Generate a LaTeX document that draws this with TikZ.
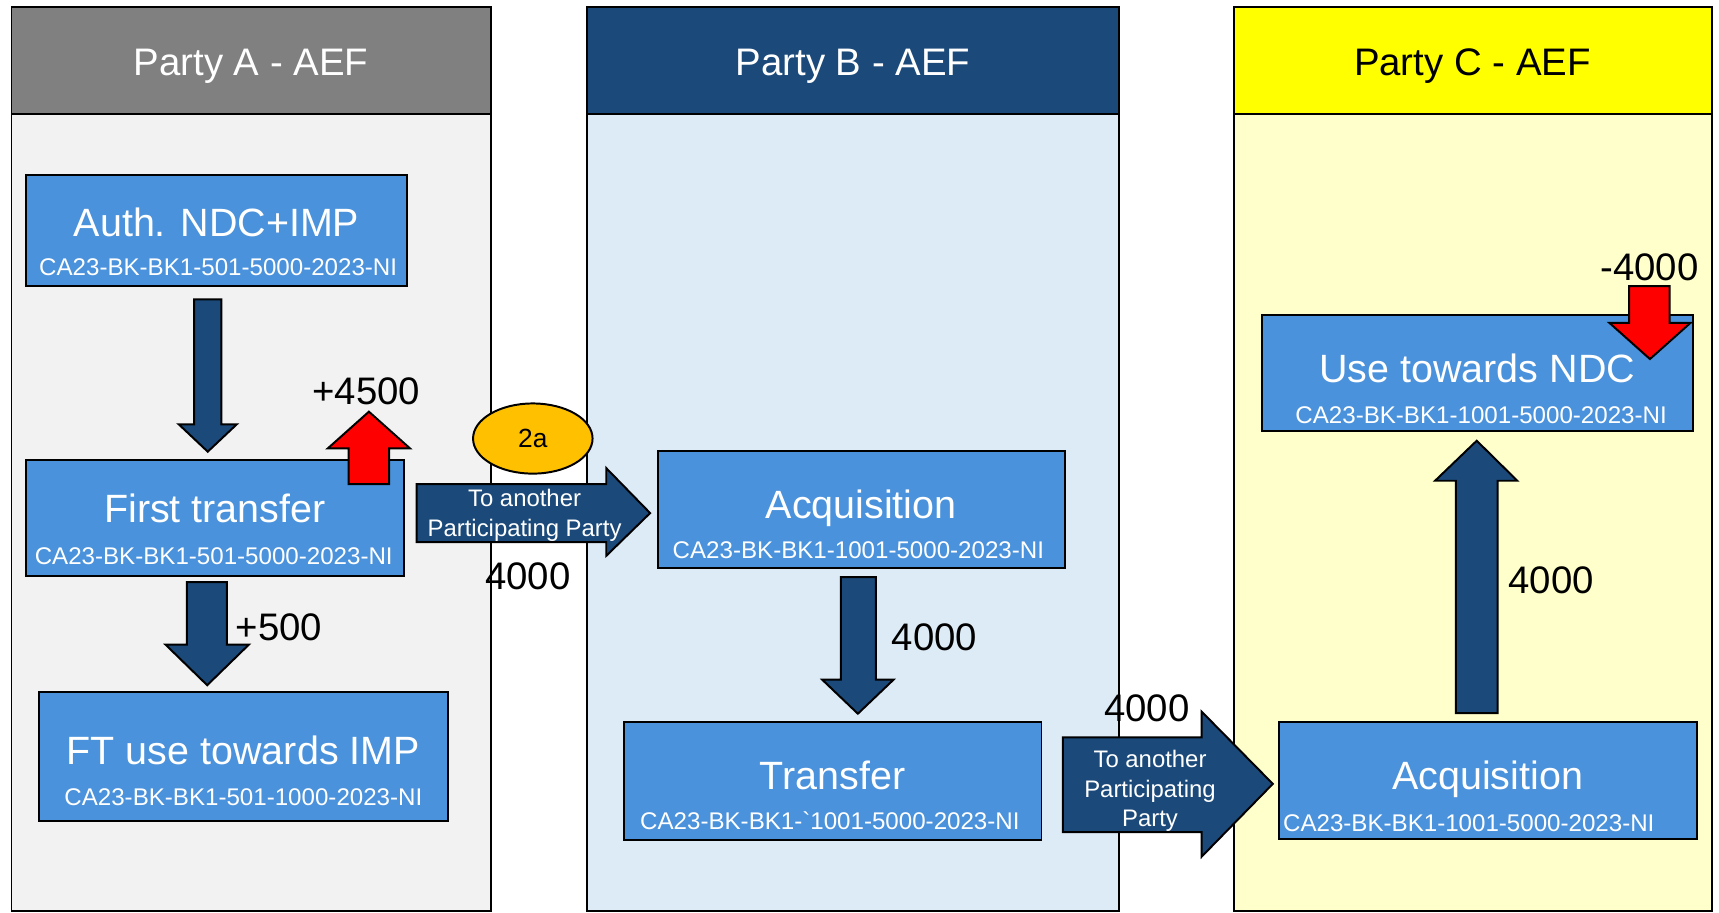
\documentclass[tikz,border=0pt]{standalone}
\usepackage{fontspec}
\setmainfont{Liberation Sans}
\newfontfamily\codefont{Liberation Sans}
\usetikzlibrary{shapes.geometric,fit}
\definecolor{grayhead}{HTML}{808080}
\definecolor{grayback}{HTML}{F2F2F2}
\definecolor{bluehead}{HTML}{1B4A7A}
\definecolor{blueback}{HTML}{DDEBF7}
\definecolor{yellowhead}{HTML}{FFFF00}
\definecolor{yellowback}{HTML}{FFFFCC}
\definecolor{boxblue}{HTML}{4A92DC}
\definecolor{arrowblue}{HTML}{1B4A7A}
\definecolor{badgecol}{HTML}{FFC000}
\definecolor{redcol}{HTML}{FF0000}
\begin{document}
\begin{tikzpicture}[x=0.5pt,y=-0.5pt,
  panel/.style={draw=black, line width=0.9pt, inner sep=0pt, outer sep=0pt},
  acctbox/.style={draw=black, fill=boxblue, line width=0.9pt, inner sep=0pt, outer sep=0pt},
  blockarrow/.style={draw=black, fill=arrowblue, line width=0.9pt, line join=miter},
  redarrow/.style={draw=black, fill=redcol, line width=0.9pt, line join=miter},
  headtext/.style={font=\fontsize{17.5pt}{20pt}\selectfont, anchor=base, inner sep=0pt},
  titletext/.style={font=\fontsize{18pt}{21pt}\selectfont, text=white, anchor=base, inner sep=0pt},
  codetext/.style={font=\codefont\fontsize{11pt}{13pt}\selectfont, text=white, anchor=base, inner sep=0pt},
  numtext/.style={font=\fontsize{17.5pt}{20pt}\selectfont, anchor=base, inner sep=0pt},
  arrowtext/.style={font=\fontsize{10.9pt}{12pt}\selectfont, text=white, anchor=base, inner sep=0pt},
  badge/.style={ellipse, draw=black, fill=badgecol, line width=0.9pt, inner sep=0pt,
    minimum width=54.5pt, minimum height=32pt, font=\fontsize{12pt}{14pt}\selectfont},
]
\useasboundingbox (0,0) rectangle (1568,832);
\fill[white] (0,0) rectangle (1568,832);

% ---- panels ----
\node[panel, fill=grayback, fit={(10.5,104) (448,831)}] (bodyA) {};
\node[panel, fill=grayhead, fit={(10.5,6.5) (448,104)}] (headA) {};
\node[panel, fill=blueback, fit={(535,104) (1020.5,831)}] (bodyB) {};
\node[panel, fill=bluehead, fit={(535,6.5) (1020.5,104)}] (headB) {};
\node[panel, fill=yellowback, fit={(1125.5,104) (1561.5,831)}] (bodyC) {};
\node[panel, fill=yellowhead, fit={(1125.5,6.5) (1561.5,104)}] (headC) {};

\node[headtext, text=white] (headAT) at (229,69) {Party A - AEF};
\node[headtext, text=white] (headBT) at (778,69) {Party B - AEF};
\node[headtext, text=black] (headCT) at (1343,69) {Party C - AEF};

% ---- account boxes ----
\node[acctbox, fit={(23.5,160) (371.5,261)}] (auth) {};
\node[acctbox, fit={(24,420) (368.5,525)}] (first) {};
\node[acctbox, fit={(36,631) (408.5,749)}] (ftuse) {};
\node[acctbox, fit={(600,411) (971,518)}] (acqB) {};
\node[acctbox, fit={(569,659) (950,766)}] (transB) {};
\node[acctbox, fit={(1151,287) (1544,393)}] (usendc) {};
\node[acctbox, fit={(1166.5,659) (1548,765)}] (acqC) {};

\node[titletext] (authT) at (197.5,216) {Auth. NDC+IMP};
\node[codetext] (authC) at (199,251) {CA23-BK-BK1-501-5000-2023-NI};
\node[titletext] (firstT) at (196,477) {First transfer};
\node[codetext] (firstC) at (195,515) {CA23-BK-BK1-501-5000-2023-NI};
\node[titletext] (ftuseT) at (222,697) {FT use towards IMP};
\node[codetext] (ftuseC) at (222,735) {CA23-BK-BK1-501-1000-2023-NI};
\node[titletext] (acqBT) at (785.5,473) {Acquisition};
\node[codetext] (acqBC) at (783,509) {CA23-BK-BK1-1001-5000-2023-NI};
\node[titletext] (transBT) at (759.5,720) {Transfer};
\node[codetext] (transBC) at (757,757) {CA23-BK-BK1-{\char96}1001-5000-2023-NI};
\node[titletext] (usendcT) at (1347.5,349) {Use towards NDC};
\node[codetext] (usendcC) at (1351,386) {CA23-BK-BK1-1001-5000-2023-NI};
\node[titletext] (acqCT) at (1357,720.5) {Acquisition};
\node[codetext, anchor=base west] (acqCC) at (1170,758.5) {CA23-BK-BK1-1001-5000-2023-NI};

% ---- blue block arrows ----
% Auth -> First transfer
\draw[blockarrow] (177,273) -- (202,273) -- (202,387) -- (216,387) -- (189.5,412) -- (163,387) -- (177,387) -- cycle;
% First transfer -> FT use
\draw[blockarrow] (170.5,531) -- (207,531) -- (207,588) -- (227,588) -- (189,625) -- (151,588) -- (170.5,588) -- cycle;
% Acquisition B -> Transfer B
\draw[blockarrow] (767,526.5) -- (799,526.5) -- (799,620) -- (815,620) -- (782.5,651) -- (750,620) -- (767,620) -- cycle;
% Acquisition C -> Use towards NDC
\draw[blockarrow] (1328,650.5) -- (1366,650.5) -- (1366,438.5) -- (1384,438.5) -- (1347,402) -- (1309,438.5) -- (1328,438.5) -- cycle;
% To another Participating Party (A -> B)
\draw[blockarrow] (380,441.5) -- (553,441.5) -- (553,427) -- (593,468) -- (553,507) -- (553,494.5) -- (380,494.5) -- cycle;
% To another Participating Party (B -> C)
\draw[blockarrow] (969.5,672.5) -- (1096,672.5) -- (1096,649) -- (1161,715) -- (1096,781.5) -- (1096,759) -- (969.5,759) -- cycle;

% ---- red arrows ----
\draw[redarrow] (318,441.5) -- (355,441.5) -- (355,409) -- (374,409) -- (336.5,375.5) -- (299,409) -- (318,409) -- cycle;
\draw[redarrow] (1486,261) -- (1523,261) -- (1523,294.5) -- (1542,294.5) -- (1505,327.5) -- (1468,294.5) -- (1486,294.5) -- cycle;

% ---- arrow texts ----
\node[arrowtext] (arr1a) at (478.5,462) {To another};
\node[arrowtext] (arr1b) at (478.5,489) {Participating Party};
\node[arrowtext] (arr2a) at (1049,700) {To another};
\node[arrowtext] (arr2b) at (1049,727) {Participating};
\node[arrowtext] (arr2c) at (1049,753.5) {Party};

% ---- badge ----
\node[badge] (b2a) at (486,400) {2a};

% ---- amounts ----
\node[numtext] (n4500) at (334,369) {+4500};
\node[numtext] (n4000a) at (481.5,538) {4000};
\node[numtext] (n500) at (254.5,584) {+500};
\node[numtext] (n4000b) at (852.5,593) {4000};
\node[numtext] (n4000c) at (1046,658) {4000};
\node[numtext] (n4000d) at (1415,541) {4000};
\node[numtext] (nm4000) at (1504.5,255.5) {-4000};
\end{tikzpicture}
\end{document}
